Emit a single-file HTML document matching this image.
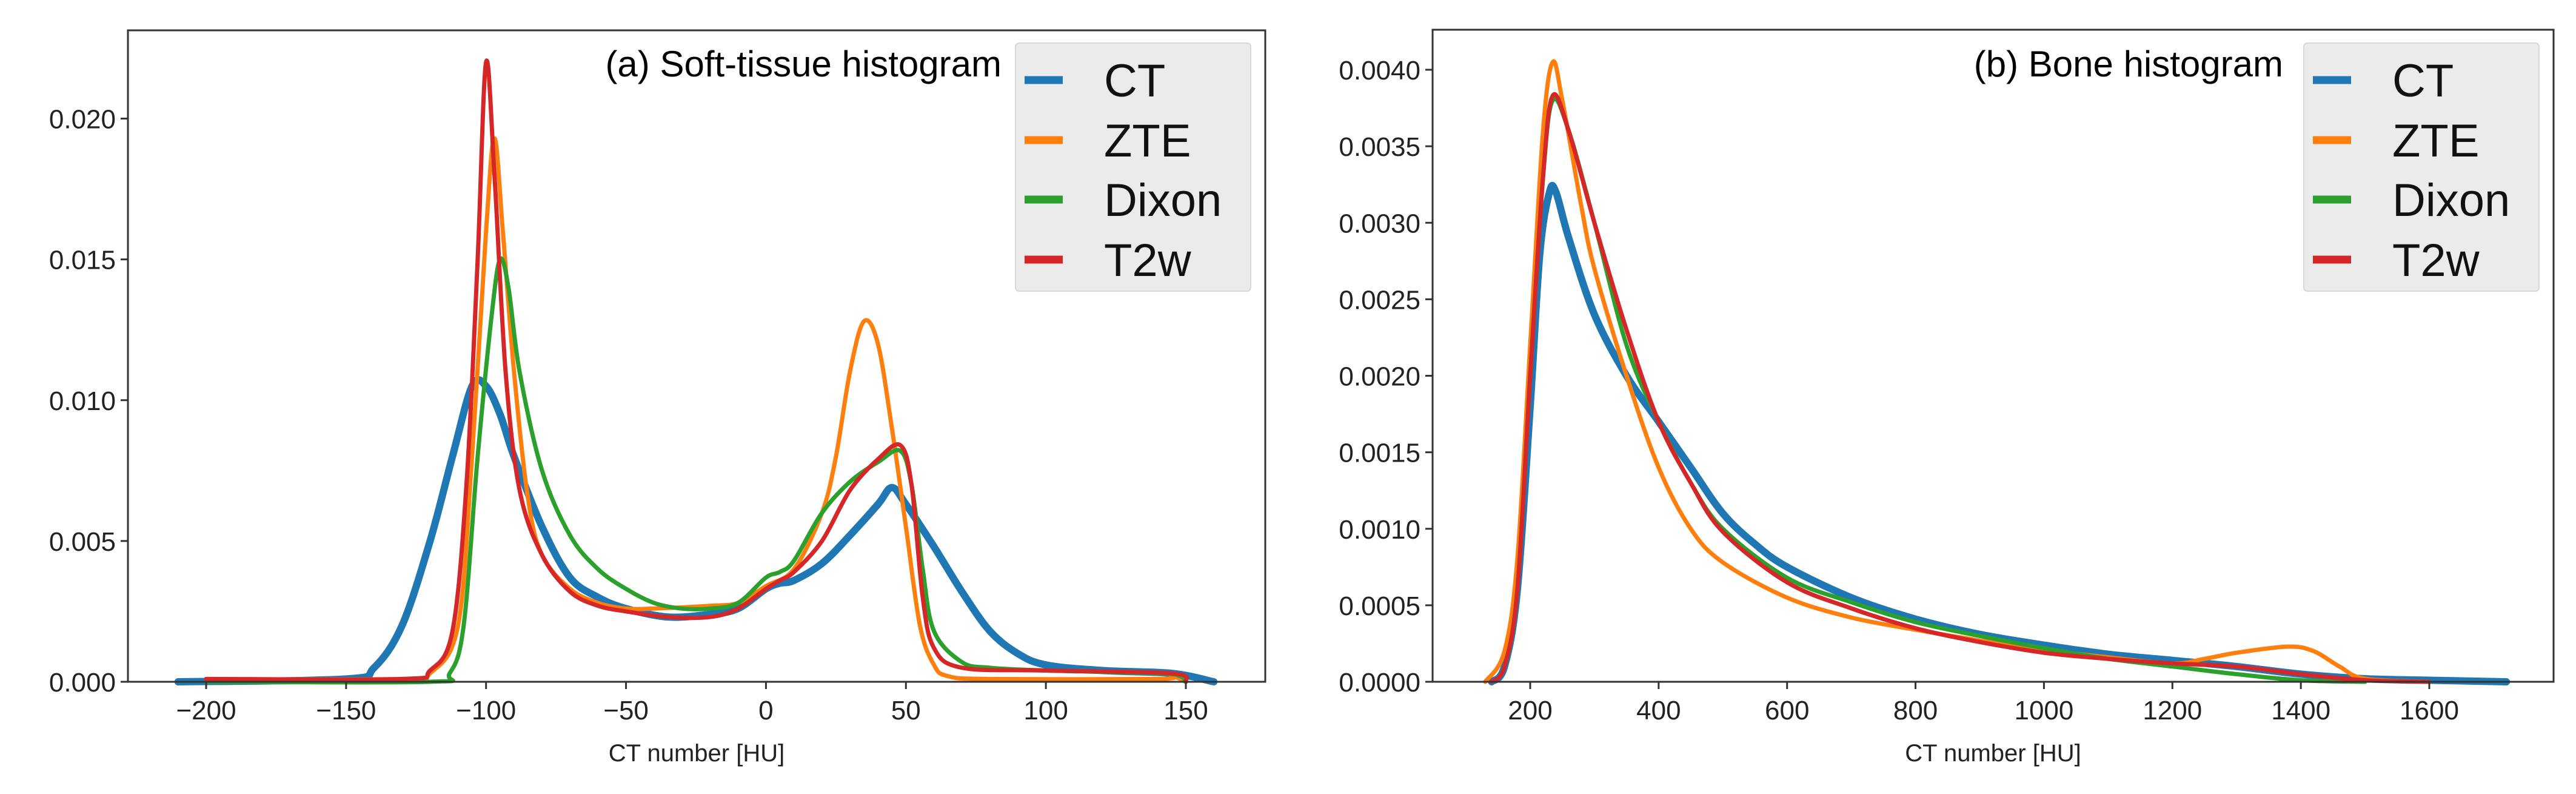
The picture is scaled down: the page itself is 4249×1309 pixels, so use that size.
<!DOCTYPE html>
<html><head><meta charset="utf-8"><style>
html,body{margin:0;padding:0;background:#fff}
svg{display:block;font-family:"Liberation Sans","DejaVu Sans",sans-serif}
</style></head><body>
<svg id="chart" width="4249" height="1309" viewBox="0 0 4249 1309" xmlns="http://www.w3.org/2000/svg"></svg>
<script>
// ---- Panel (a) data ----
const seriesNames = ["CT","ZTE","Dixon","T2w"];
const seriesColors = ["#1f77b4","#ff7f0e","#2ca02c","#d62728"];
const aCT_x = [-210,-150,-140,-130,-120,-112,-105,-100,-95,-90,-80,-70,-60,-50,-35,-20,-10,0,5,10,20,30,40,45,50,60,70,80,90,100,120,145,160];
const aCT_y = [0,0.0001,0.0005,0.002,0.005,0.008,0.0105,0.0105,0.0095,0.008,0.0055,0.0037,0.003,0.0026,0.0023,0.0024,0.0026,0.0033,0.0035,0.0036,0.0042,0.0052,0.0063,0.0069,0.0063,0.0048,0.0032,0.0018,0.001,0.0006,0.0004,0.0003,0];
const aZTE_x = [-200,-130,-120,-110,-105,-100,-97,-94,-90,-85,-80,-70,-60,-50,-40,-20,-10,0,10,20,25,30,35,40,45,50,55,60,65,80,140,145,150];
const aZTE_y = [0.0001,0.0001,0.0003,0.002,0.008,0.016,0.0193,0.016,0.011,0.0065,0.0045,0.0033,0.0028,0.0026,0.0026,0.0027,0.0028,0.0034,0.004,0.006,0.008,0.011,0.0128,0.012,0.009,0.0055,0.002,0.0006,0.0002,0.0001,0.0001,0.0002,0];
const aDIX_x = [-200,-120,-113,-108,-103,-98,-95,-92,-88,-80,-70,-60,-50,-40,-30,-20,-10,0,5,10,20,30,40,48,52,56,60,70,80,100,140,148,150];
const aDIX_y = [0,0,0.0003,0.002,0.008,0.013,0.015,0.014,0.011,0.0075,0.0052,0.004,0.0033,0.0028,0.0026,0.0026,0.0028,0.0037,0.0039,0.0043,0.006,0.0071,0.0078,0.0082,0.007,0.004,0.0018,0.0007,0.0005,0.0004,0.0003,0.0002,0];
const aT2_x = [-200,-130,-120,-112,-107,-103,-100,-97,-93,-88,-80,-70,-60,-50,-35,-20,-10,0,5,10,20,30,40,48,52,56,60,70,100,145,150];
const aT2_y = [0.0001,0.0001,0.0004,0.0018,0.007,0.015,0.022,0.018,0.011,0.0068,0.0045,0.0032,0.0027,0.0025,0.0023,0.0023,0.0026,0.0033,0.0036,0.0039,0.005,0.0068,0.0079,0.0084,0.007,0.003,0.0012,0.0005,0.0004,0.0003,0];
const aXTicks = [-200,-150,-100,-50,0,50,100,150];
const aYTicks = [0,0.005,0.010,0.015,0.020];
const aYLabels = ["0.000","0.005","0.010","0.015","0.020"];
// ---- Panel (b) data ----
const bCT_x = [140,160,180,200,215,230,240,260,300,350,400,450,500,550,600,700,800,900,1000,1100,1200,1300,1400,1500,1600,1720];
const bCT_y = [0,0.0001,0.0006,0.0018,0.0028,0.0032,0.0032,0.0029,0.0024,0.002,0.0017,0.0014,0.0011,0.0009,0.00075,0.00055,0.00041,0.00031,0.00024,0.00018,0.00014,0.0001,0.00005,0.00002,0.00001,0];
const bZTE_x = [130,160,180,200,220,235,250,280,300,350,400,450,500,600,700,800,900,1000,1100,1200,1250,1300,1380,1420,1460,1500,1600];
const bZTE_y = [0,0.0002,0.0008,0.0022,0.0036,0.00405,0.0038,0.0031,0.0027,0.002,0.0014,0.001,0.00078,0.00055,0.00042,0.00034,0.00027,0.00021,0.00016,0.00012,0.00015,0.00019,0.00023,0.0002,0.0001,0.00002,0];
const bDIX_x = [140,160,180,200,220,235,260,300,350,400,450,500,600,700,800,900,1000,1100,1200,1300,1400,1500];
const bDIX_y = [0,0.0001,0.0006,0.002,0.0033,0.0038,0.0036,0.003,0.0022,0.0017,0.0013,0.001,0.00068,0.00052,0.00039,0.0003,0.00022,0.00015,0.0001,0.00005,0.00001,0];
const bT2_x = [140,160,180,200,220,235,260,300,350,400,450,500,600,700,800,900,1000,1100,1200,1300,1400,1500,1600];
const bT2_y = [0,0.0001,0.0006,0.002,0.0033,0.00383,0.0036,0.003,0.0023,0.0017,0.0013,0.00098,0.00065,0.00048,0.00035,0.00026,0.00019,0.00015,0.00012,0.0001,0.00005,0.00001,0];
const bXTicks = [200,400,600,800,1000,1200,1400,1600];
const bYTicks = [0,0.0005,0.001,0.0015,0.002,0.0025,0.003,0.0035,0.004];
const bYLabels = ["0.0000","0.0005","0.0010","0.0015","0.0020","0.0025","0.0030","0.0035","0.0040"];

const NS = "http://www.w3.org/2000/svg";
const svg = document.getElementById("chart");
function mk(tag, attrs, parent){const e=document.createElementNS(NS,tag);for(const k in attrs)e.setAttribute(k,attrs[k]);(parent||svg).appendChild(e);return e;}

function smoothPath(pts){
  let d="M"+pts[0][0].toFixed(1)+","+pts[0][1].toFixed(1);
  for(let i=0;i<pts.length-1;i++){
    const p0=pts[Math.max(0,i-1)],p1=pts[i],p2=pts[i+1],p3=pts[Math.min(pts.length-1,i+2)];
    const c1x=p1[0]+(p2[0]-p0[0])/6,c1y=p1[1]+(p2[1]-p0[1])/6;
    const c2x=p2[0]-(p3[0]-p1[0])/6,c2y=p2[1]-(p3[1]-p1[1])/6;
    d+=" C"+c1x.toFixed(1)+","+c1y.toFixed(1)+" "+c2x.toFixed(1)+","+c2y.toFixed(1)+" "+p2[0].toFixed(1)+","+p2[1].toFixed(1);
  }
  return d;
}

function panel(cfg){
  const g=mk("g",{});
  
  
  const X=v=>cfg.x0px+(v-cfg.x0v)*(cfg.x1px-cfg.x0px)/(cfg.x1v-cfg.x0v);
  const Y=v=>cfg.y0px+(v-cfg.y0v)*(cfg.y1px-cfg.y0px)/(cfg.y1v-cfg.y0v);
  // series
  cfg.series.forEach((s,i)=>{
    const pts=s.x.map((xv,j)=>[X(xv),Y(s.y[j])]);
    const p=mk("path",{d:smoothPath(pts),fill:"none",stroke:seriesColors[i],"stroke-width":i===0?12:7,"stroke-linejoin":"round","stroke-linecap":"round"},g);
    
    
  });
  // frame
  const fr=mk("rect",{x:cfg.L,y:cfg.T,width:cfg.R-cfg.L,height:cfg.B-cfg.T,fill:"none",stroke:"#333","stroke-width":3},g);
  
  
  // x ticks
  cfg.xt.forEach(v=>{
    const x=X(v);
    mk("line",{x1:x,x2:x,y1:cfg.B,y2:cfg.B+12,stroke:"#333","stroke-width":3},g);
    const t=mk("text",{x:x,y:cfg.B+62,"font-size":44,"text-anchor":"middle",fill:"#222"},g);
    t.textContent=(v<0?"\u2212"+(-v):String(v));
    
    
  });
  cfg.yt.forEach((v,i)=>{
    const y=Y(v);
    mk("line",{x1:cfg.L-12,x2:cfg.L,y1:y,y2:y,stroke:"#333","stroke-width":3},g);
    const t=mk("text",{x:cfg.L-20,y:y+16,"font-size":44,"text-anchor":"end",fill:"#222"},g);
    t.textContent=cfg.yl[i];
    
    
  });
  const xt=mk("text",{x:(cfg.L+cfg.R)/2,y:1255,"font-size":40,"text-anchor":"middle",fill:"#222"},g);
  xt.textContent="CT number [HU]";
  
  
  const tt=mk("text",{x:cfg.titleRight,y:126,"font-size":60,"text-anchor":"end",fill:"#000"},g);
  tt.textContent=cfg.title;
  
  
  // legend
  const lg=mk("g",{},g);
  
  
  mk("rect",{x:cfg.legX,y:71,width:388,height:409,rx:6,fill:"#ebebeb",stroke:"#d8d8d8","stroke-width":2},lg);
  const ly=[132,231,329,428];
  seriesNames.forEach((n,i)=>{
    const e=mk("g",{},lg);
    
    
    mk("line",{x1:cfg.legX+15,x2:cfg.legX+78,y1:ly[i],y2:ly[i],stroke:seriesColors[i],"stroke-width":13},e);
    const t=mk("text",{x:cfg.legX+146,y:ly[i]+27,"font-size":76,fill:"#111"},e);
    t.textContent=n;
  });
}

panel({name:"panel-a-soft-tissue",L:211,R:2087,T:50,B:1124,
  x0v:-200,x1v:150,x0px:340,x1px:1956,y0v:0,y1v:0.02,y0px:1124,y1px:195.5,
  xt:aXTicks,yt:aYTicks,yl:aYLabels,title:"(a) Soft-tissue histogram",titleRight:1652,legX:1675,
  series:[{x:aCT_x,y:aCT_y},{x:aZTE_x,y:aZTE_y},{x:aDIX_x,y:aDIX_y},{x:aT2_x,y:aT2_y}]});
panel({name:"panel-b-bone",L:2363,R:4212,T:49,B:1124,
  x0v:200,x1v:1600,x0px:2524,x1px:4007,y0v:0,y1v:0.004,y0px:1124,y1px:115,
  xt:bXTicks,yt:bYTicks,yl:bYLabels,title:"(b) Bone histogram",titleRight:3766,legX:3800,
  series:[{x:bCT_x,y:bCT_y},{x:bZTE_x,y:bZTE_y},{x:bDIX_x,y:bDIX_y},{x:bT2_x,y:bT2_y}]});
</script>
</body></html>
